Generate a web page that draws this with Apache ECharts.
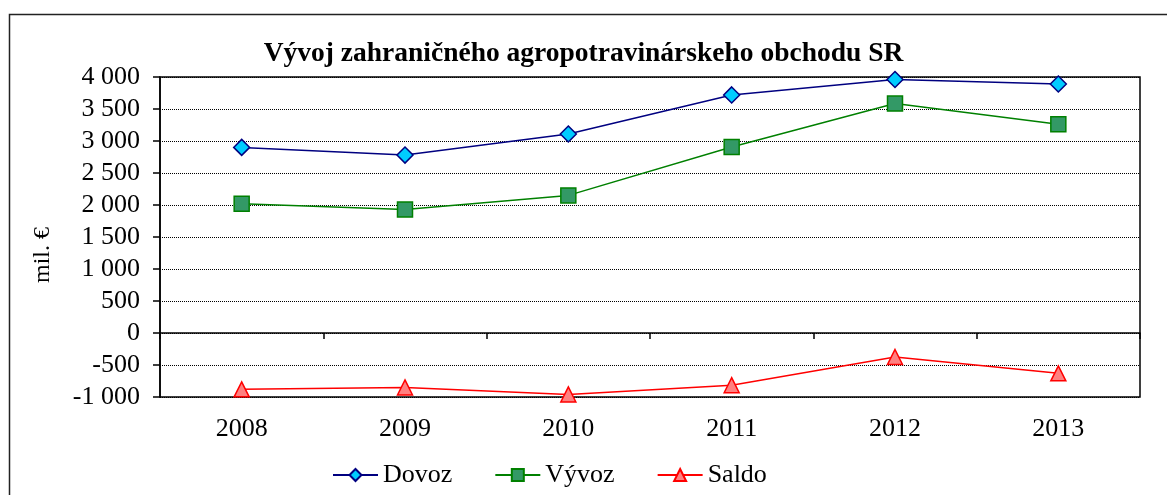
<!DOCTYPE html>
<html>
<head>
<meta charset="utf-8">
<script src="https://cdn.jsdelivr.net/npm/echarts@6/dist/echarts.min.js"></script>
<style>
  html, body { margin: 0; padding: 0; background: #fff; }
  #chart { width: 1167px; height: 495px; }
</style>
</head>
<body>
<div id="chart"></div>
<script>
// data
const years = ['2008', '2009', '2010', '2011', '2012', '2013'];
const dovoz = [2900, 2780, 3110, 3720, 3960, 3890];
const vyvoz = [2020, 1930, 2150, 2905, 3585, 3260];
const saldo = [-880, -850, -960, -815, -375, -630];

const serif = '"Liberation Serif", "Times New Roman", serif';

// y labels use a space as thousands separator
function fmt(v) {
  let s = String(Math.abs(v)).replace(/\B(?=(\d{3})+(?!\d))/g, ' ');
  return (v < 0 ? '-' : '') + s;
}

const chart = echarts.init(document.getElementById('chart'));

const option = {
  animation: false,
  backgroundColor: '#fff',
  title: {
    text: 'Vývoj zahraničného agropotravinárskeho obchodu SR',
    left: 'center',
    top: 35,
    textStyle: { fontFamily: serif, fontWeight: 'bold', fontSize: 27.5, color: '#000' }
  },
  legend: {
    top: 462,
    left: 332,
    padding: 0,
    itemWidth: 45,
    itemHeight: 15,
    itemGap: 42,
    textStyle: { fontFamily: serif, fontSize: 26, color: '#000' },
    data: ['Dovoz', 'Vývoz', 'Saldo']
  },
  graphic: [
    {
      type: 'rect',
      shape: { x: 9.5, y: 14.5, width: 1300, height: 700 },
      style: { fill: null, stroke: '#222', lineWidth: 1.5 },
      silent: true
    },
    {
      type: 'text',
      x: 43,
      y: 255,
      rotation: Math.PI / 2,
      style: {
        text: 'mil. €',
        font: '24px ' + serif,
        fill: '#000',
        align: 'center',
        verticalAlign: 'middle'
      }
    }
  ],
  grid: {
    left: 160,
    right: 27,
    top: 77,
    bottom: 98,
    show: true,
    borderColor: '#000',
    borderWidth: 1.5,
    backgroundColor: 'transparent'
  },
  xAxis: [
    {
      type: 'category',
      data: years,
      boundaryGap: true,
      axisLine: { onZero: true, lineStyle: { color: '#000', width: 1.5 } },
      axisTick: { show: true, length: 6, interval: 0, lineStyle: { color: '#000', width: 1.5 } },
      axisLabel: { show: false },
      splitLine: { show: false }
    },
    {
      type: 'category',
      data: years,
      position: 'bottom',
      boundaryGap: true,
      axisLine: { show: false, onZero: false },
      axisTick: { show: false },
      axisLabel: { margin: 19, fontFamily: serif, fontSize: 26, color: '#000' },
      splitLine: { show: false }
    }
  ],
  yAxis: {
    type: 'value',
    min: -1000,
    max: 4000,
    interval: 500,
    axisLine: { show: true, lineStyle: { color: '#000', width: 1.5 } },
    axisTick: { show: true, length: 7, lineStyle: { color: '#000', width: 1.5 } },
    axisLabel: {
      margin: 20,
      fontFamily: serif,
      fontSize: 26,
      color: '#000',
      formatter: fmt
    },
    splitLine: { show: true, lineStyle: { color: '#000', width: 1, type: [1, 1] } }
  },
  series: [
    {
      name: 'Dovoz',
      type: 'line',
      data: dovoz,
      symbol: 'diamond',
      symbolSize: 16,
      lineStyle: { color: '#000080', width: 1.5 },
      itemStyle: { color: '#00CCFF', borderColor: '#000080', borderWidth: 1.5 }
    },
    {
      name: 'Vývoz',
      type: 'line',
      data: vyvoz,
      symbol: 'rect',
      symbolSize: 15,
      lineStyle: { color: '#008000', width: 1.5 },
      itemStyle: { color: '#339966', borderColor: '#008000', borderWidth: 1.5 }
    },
    {
      name: 'Saldo',
      type: 'line',
      data: saldo,
      symbol: 'triangle',
      symbolSize: 15,
      lineStyle: { color: '#FF0000', width: 1.5 },
      itemStyle: { color: '#FF8080', borderColor: '#FF0000', borderWidth: 1.5 }
    }
  ]
};

chart.setOption(option);
</script>
</body>
</html>
